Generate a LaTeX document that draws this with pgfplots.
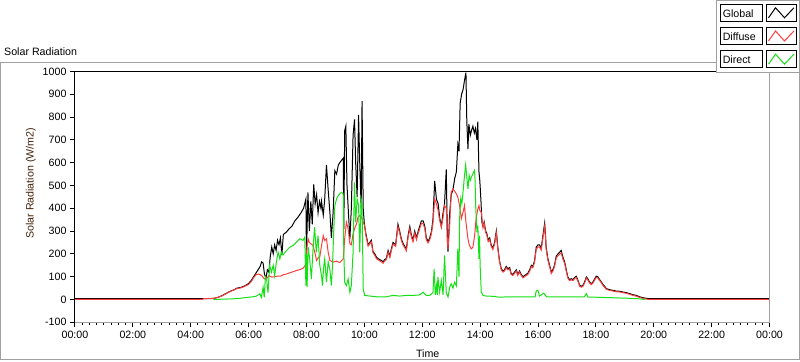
\documentclass[border=0pt]{standalone}
\usepackage{fontspec}
\setmainfont{Liberation Sans}
\usepackage{pgfplots}
\pgfplotsset{compat=1.18}
\definecolor{cglobal}{RGB}{0,0,0}
\definecolor{cdiffuse}{RGB}{255,60,60}
\definecolor{cdirect}{RGB}{20,225,20}
\definecolor{cframe}{RGB}{160,160,160}
\definecolor{clabel}{RGB}{70,35,10}
\newcommand{\sz}{\fontsize{10.7}{12}\selectfont}
\begin{document}
\begin{tikzpicture}
\begin{scope}[x=1bp,y=1bp]
\useasboundingbox (0,0) rectangle (800,361);
\draw[cframe, line width=1bp] (0.5,1.5) rectangle (799.5,299);
\end{scope}
\begin{axis}[
  at={(75bp,39bp)}, anchor=south west, scale only axis,
  width=695bp, height=251bp,
  xmin=0, xmax=24, ymin=-100, ymax=1000,
  xtick={0,2,...,24},
  xticklabels={00:00,02:00,04:00,06:00,08:00,10:00,12:00,14:00,16:00,18:00,20:00,22:00,00:00},
  minor x tick num=7,
  ytick={-100,0,...,1000},
  tick align=outside, tick pos=left,
  major tick length=5bp, minor tick length=3bp,
  tick style={black, line width=1bp},
  axis line style={draw=none},
  ticklabel style={font=\sz},
  /pgf/number format/assume math mode=true,
  /pgf/number format/1000 sep={},
  clip=false,
]
% Global
\addplot[cglobal, line width=1bp] coordinates {
(0,4) (4.7,4) (4.8,5) (4.9,8) (5.0,12) (5.1,18) (5.2,25) (5.3,32) (5.4,38) (5.5,43) (5.6,50) (5.7,52) (5.8,56) (5.9,62) (6.0,70) (6.1,85) (6.2,105) (6.3,125) (6.4,145) (6.45,165) (6.5,160) (6.55,110) (6.6,95) (6.65,130) (6.7,120) (6.75,190) (6.8,230) (6.85,200) (6.9,240) (6.95,215) (7.0,260) (7.05,240) (7.1,270) (7.15,195) (7.2,285) (7.3,295) (7.4,310) (7.5,322) (7.6,345) (7.7,360) (7.8,378) (7.9,400) (7.95,425) (7.98,440) (8.0,180) (8.03,360) (8.05,470) (8.1,300) (8.15,430) (8.2,330) (8.25,505) (8.3,420) (8.35,460) (8.4,380) (8.45,430)
(8.5,400) (8.52,430) (8.58,370) (8.63,440) (8.69,590) (8.75,480) (8.81,380) (8.86,270) (8.92,380) (8.98,565) (9.04,550) (9.1,590) (9.15,600) (9.21,610) (9.27,620) (9.29,310) (9.32,740) (9.36,760) (9.4,500) (9.45,380) (9.5,265) (9.55,400) (9.61,720) (9.66,790) (9.7,600) (9.75,450) (9.8,810) (9.84,600) (9.89,400) (9.92,870) (9.96,400) (10.0,330) (10.05,290) (10.13,240) (10.19,250) (10.24,260) (10.3,210) (10.36,200) (10.42,185) (10.53,175) (10.6,170) (10.65,165) (10.7,175) (10.76,180) (10.82,215) (10.88,190) (10.93,220) (10.99,250) (11.08,240) (11.16,330) (11.22,300) (11.28,265) (11.34,245) (11.39,235) (11.45,220) (11.51,280) (11.57,320) (11.63,280) (11.68,260) (11.74,300) (11.8,270) (11.86,300) (11.91,320) (11.97,345) (12.03,345) (12.09,320) (12.14,270) (12.2,255) (12.26,270) (12.32,300) (12.37,350) (12.43,520) (12.49,440) (12.55,420) (12.6,360) (12.66,320) (12.72,380) (12.77,420) (12.83,570) (12.87,260) (12.89,210) (12.95,380) (13.0,460) (13.06,480) (13.12,530) (13.18,560) (13.23,680) (13.27,650) (13.31,860) (13.36,900) (13.41,920) (13.46,960) (13.51,995) (13.54,780) (13.58,660) (13.61,770) (13.66,720) (13.7,740) (13.75,760) (13.8,730) (13.84,750) (13.89,700) (13.92,780) (13.96,560) (13.99,520) (14.03,430) (14.06,340) (14.1,320) (14.14,340) (14.19,300) (14.23,290) (14.28,260) (14.33,270) (14.38,240) (14.44,225) (14.5,250) (14.56,300) (14.61,230) (14.67,170) (14.73,135) (14.79,125) (14.84,130) (14.9,145) (14.96,135) (15.02,140) (15.07,115) (15.13,110) (15.19,120) (15.25,130) (15.3,110) (15.36,125) (15.42,110) (15.48,100) (15.54,105) (15.59,110) (15.65,115) (15.71,130) (15.77,150) (15.82,145) (15.88,170) (15.94,230) (16.0,240) (16.05,240) (16.11,225) (16.17,280) (16.23,335) (16.26,280) (16.28,230) (16.34,180) (16.4,150) (16.46,120) (16.51,130) (16.57,150) (16.63,190) (16.69,200) (16.75,208) (16.8,215) (16.86,186) (16.92,165) (16.98,128) (17.03,99) (17.09,87) (17.15,91) (17.21,87) (17.26,96) (17.32,102) (17.38,84) (17.44,62) (17.5,58) (17.55,62) (17.61,77) (17.67,99) (17.72,91) (17.78,77) (17.84,69) (17.9,77) (17.96,91) (18.01,102) (18.07,99) (18.13,87) (18.19,77) (18.24,66) (18.3,58) (18.36,48) (18.47,43) (18.59,40) (18.7,37) (18.82,36) (18.93,33) (19.05,30) (19.16,26) (19.28,21) (19.39,18) (19.51,12) (19.62,8) (19.74,5) (19.85,4) (24,4)
};
% Diffuse
\addplot[cdiffuse, line width=1bp] coordinates {
(0,0) (4.4,0) (4.45,4) (4.8,5) (4.9,8) (5.0,12) (5.1,17) (5.2,24) (5.3,31) (5.4,37) (5.5,42) (5.6,48) (5.7,50) (5.8,54) (5.9,60) (6.0,66) (6.1,80) (6.17,95) (6.25,108) (6.35,112) (6.45,105) (6.55,90) (6.62,90) (6.7,105) (6.8,98) (6.9,100) (7.0,102) (7.1,102) (7.19,108) (7.31,112) (7.42,117) (7.54,122) (7.65,127) (7.77,131) (7.88,137) (7.96,150) (8.0,200) (8.02,236) (8.06,265) (8.1,250) (8.23,236) (8.3,200) (8.35,171) (8.42,186) (8.46,186) (8.52,237) (8.58,280) (8.63,259) (8.69,266) (8.75,207) (8.81,171) (8.92,164) (9.04,168) (9.15,162) (9.27,178) (9.32,266) (9.38,339) (9.44,310) (9.5,244) (9.55,240) (9.61,288) (9.66,310) (9.73,332) (9.78,361) (9.84,368) (9.9,360) (9.96,339) (10.01,324)
(10.05,283) (10.13,234) (10.19,244) (10.24,253) (10.3,204) (10.36,194) (10.42,179) (10.53,169) (10.6,164) (10.65,159) (10.7,169) (10.76,174) (10.82,208) (10.88,184) (10.93,213) (10.99,243) (11.08,233) (11.16,320) (11.22,292) (11.28,258) (11.34,238) (11.39,228) (11.45,213) (11.51,272) (11.57,310) (11.63,272) (11.68,253) (11.74,291) (11.8,262) (11.86,291) (11.91,310) (11.97,334) (12.03,334) (12.09,310) (12.14,262) (12.2,248) (12.26,262) (12.32,290) (12.37,335) (12.43,440) (12.49,420) (12.55,390) (12.6,347) (12.66,317) (12.72,360) (12.77,412) (12.83,400) (12.87,250) (12.89,222) (12.95,330) (13.0,470) (13.06,485) (13.12,475) (13.18,463) (13.23,449) (13.29,412) (13.35,354) (13.41,383) (13.46,412) (13.51,339) (13.58,266) (13.63,237) (13.69,222) (13.75,229) (13.81,280) (13.86,354) (13.92,397) (13.96,412) (13.99,390) (14.04,383) (14.1,315)
(14.14,333) (14.19,294) (14.23,283) (14.28,254) (14.33,263) (14.38,234) (14.44,219) (14.5,243) (14.56,292) (14.61,224) (14.67,165) (14.73,130) (14.79,120) (14.84,125) (14.9,139) (14.96,130) (15.02,134) (15.07,110) (15.13,105) (15.19,115) (15.25,124) (15.3,105) (15.36,120) (15.42,105) (15.48,95) (15.54,100) (15.59,105) (15.65,110) (15.71,124) (15.77,144) (15.82,139) (15.88,163) (15.94,221) (16.0,230) (16.05,231) (16.11,216) (16.17,270) (16.23,322) (16.26,270) (16.28,222) (16.34,173) (16.4,144) (16.46,114) (16.51,124) (16.57,144) (16.63,182) (16.69,192) (16.75,200) (16.8,205) (16.86,178) (16.92,158) (16.98,122) (17.03,94) (17.09,83) (17.15,86) (17.21,83) (17.26,91) (17.32,97) (17.38,80) (17.44,58) (17.5,54) (17.55,58) (17.61,72) (17.67,94) (17.72,86) (17.78,73) (17.84,65) (17.9,73) (17.96,86) (18.01,97) (18.07,94) (18.13,83) (18.19,73) (18.24,62) (18.3,54) (18.36,45) (18.47,40) (18.59,37) (18.7,34) (18.82,33) (18.93,30) (19.05,27) (19.16,23) (19.28,18) (19.39,15) (19.51,9) (19.62,5) (19.74,2) (19.85,0) (24,0)
};
% Direct
\addplot[cdirect, line width=1bp] coordinates {
(4.78,0) (5.47,3) (5.7,5) (5.93,9) (6.16,12) (6.27,15) (6.39,25) (6.44,9) (6.5,54) (6.54,10) (6.58,100) (6.62,90) (6.67,30) (6.73,150) (6.79,120) (6.85,150) (6.9,105) (6.96,164) (7.02,208) (7.08,178) (7.13,208) (7.19,195) (7.31,215) (7.42,229) (7.54,237) (7.65,251) (7.77,266) (7.88,259) (7.94,273) (7.98,61) (8.0,200) (8.02,54) (8.06,229) (8.11,178) (8.17,90) (8.23,230) (8.28,317) (8.34,207) (8.4,280) (8.46,149) (8.52,105) (8.55,61) (8.6,150) (8.63,178) (8.69,76) (8.75,164) (8.81,130) (8.86,61) (8.9,150) (8.94,295) (8.98,412) (9.04,441) (9.1,456) (9.15,463) (9.21,470) (9.27,463) (9.29,207) (9.32,76) (9.38,61) (9.44,90) (9.5,32) (9.55,61) (9.61,207) (9.66,514) (9.7,339) (9.75,441) (9.8,412) (9.84,207) (9.89,441) (9.92,420) (9.96,47) (10.01,18) (10.19,15) (10.42,12) (10.76,12) (10.99,18) (11.22,15) (11.45,18) (11.68,18) (11.91,20) (12.03,32) (12.14,18) (12.26,18) (12.37,30) (12.41,134) (12.45,20) (12.49,61) (12.52,20) (12.54,99) (12.6,32) (12.66,84) (12.72,20) (12.77,193) (12.83,30) (12.89,11) (12.95,54) (13.0,69) (13.06,50) (13.12,76) (13.18,60) (13.23,223) (13.27,100) (13.29,353) (13.33,442) (13.37,420) (13.43,500) (13.46,544) (13.5,590) (13.54,537) (13.58,485) (13.62,544) (13.66,522) (13.7,537) (13.75,551) (13.8,566) (13.82,544) (13.85,398) (13.89,295) (13.92,324) (13.96,178) (13.98,280) (14.0,149) (14.04,32) (14.1,18) (14.21,15) (14.44,14) (14.67,10) (15.0,12) (15.5,11) (15.9,12) (15.94,38) (16.0,40) (16.05,15) (16.2,28) (16.3,11) (17.0,11) (17.6,11) (17.67,26) (17.72,11) (18.5,8) (19.0,6) (19.5,3) (19.7,0)
};
\draw[black, line width=1bp] (rel axis cs:0,0) -- (rel axis cs:0,1) -- (rel axis cs:1,1);
\draw[cframe, line width=1bp] (rel axis cs:1,1) -- (rel axis cs:1,0) -- (rel axis cs:0,0);
\end{axis}
\begin{scope}[x=1bp,y=1bp]
\node[anchor=base west, inner sep=0pt, font=\sz] at (4,306) {Solar Radiation};
\node[rotate=90, inner sep=0pt, font=\sz, text=clabel] at (31,178) {Solar Radiation (W/m2)};
\node[anchor=base, inner sep=0pt, font=\sz] at (428,3.7) {Time};
\filldraw[fill=white, draw=cframe, line width=1bp] (717,361) rectangle (800,289);
\foreach \lab/\col [count=\i] in {Global/cglobal,Diffuse/cdiffuse,Direct/cdirect}{
  \pgfmathsetmacro{\yt}{361-4-(\i-1)*23.2}
  \draw[black, line width=1bp, fill=white] (720.7,\yt) rectangle (763.3,\yt-16.7);
  \draw[black, line width=1bp, fill=white] (766.7,\yt) rectangle (797.3,\yt-16.7);
  \node[anchor=base west, inner sep=0pt, font=\sz] at (723,\yt-12.7) {\lab};
  \draw[\col, line width=1bp] (769,\yt-13.3) -- (776,\yt-3.3) -- (785,\yt-13.3) -- (794.4,\yt-3.3);
}
\end{scope}
\end{tikzpicture}
\end{document}
